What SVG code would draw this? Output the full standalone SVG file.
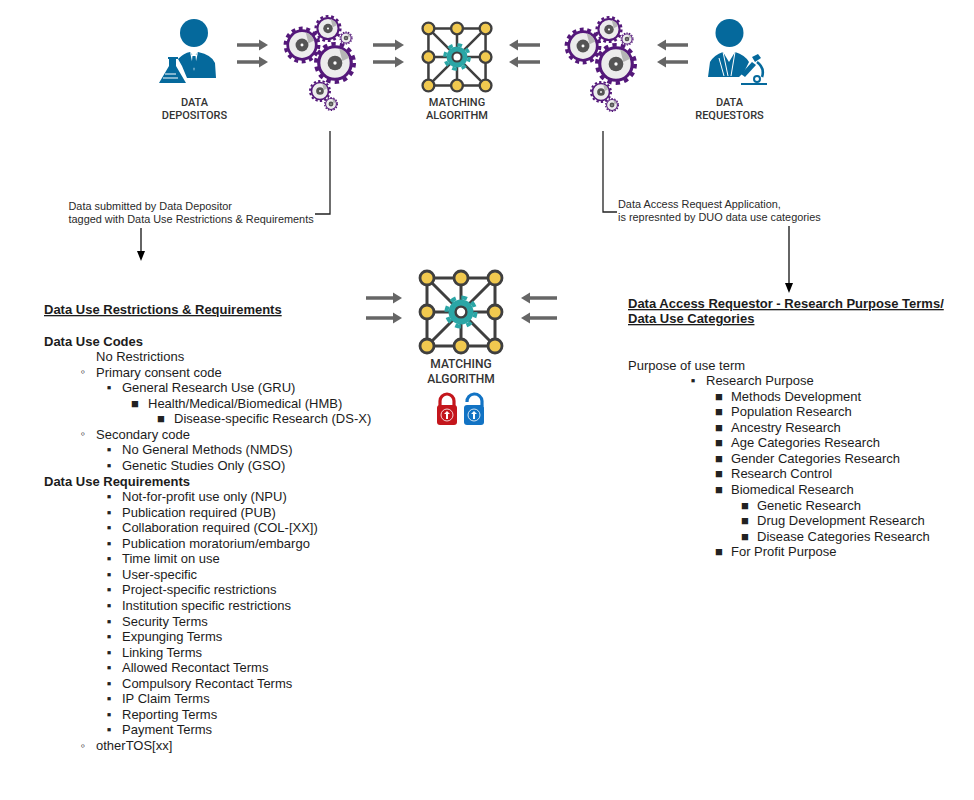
<svg xmlns="http://www.w3.org/2000/svg" width="974" height="800" viewBox="0 0 974 800">
<style>
text{font-family:"Liberation Sans",Arial,sans-serif;fill:#1c1c1c}
.b{font-size:13px}
.s{font-size:10.900px;fill:#2a2a2a}
.h{font-size:13px;font-weight:bold;text-decoration:underline}
.g{font-size:13px;font-weight:bold}
.l{font-family:Roboto,"Liberation Sans",sans-serif;font-weight:500;fill:#333;text-anchor:middle}
.bu{font-size:13px;fill:#222;text-anchor:middle}
.block{stroke:#666;stroke-width:3.500;fill:none;marker-end:url(#blockhead)}
.thin{stroke:#222;stroke-width:1.300;fill:none}
.thinA{stroke:#111;stroke-width:1.300;fill:none;marker-end:url(#blackhead)}
.edge{stroke:#3f3f3f;stroke-width:3}
.node{fill:#f1c94f;stroke:#3f3f3f;stroke-width:2.800}
.blue{fill:#05699c}
</style>
<defs>
<marker id="blockhead" markerUnits="userSpaceOnUse" markerWidth="10" markerHeight="12" refX="1" refY="6" orient="auto"><path d="M0 0.500L9 6L0 11.500Z" fill="#666"/></marker>
<marker id="blackhead" markerUnits="userSpaceOnUse" markerWidth="10" markerHeight="8" refX="0" refY="4" orient="auto"><path d="M0 0L10 4L0 8Z" fill="#000"/></marker>
<symbol id="gear" viewBox="-22 -22 44 44" overflow="visible">
<circle r="18.2" fill="none" stroke="#54187a" stroke-width="3.600" stroke-dasharray="4.200 3.970"/>
<circle r="15.500" fill="#ececec" stroke="#54187a" stroke-width="3"/>
<path d="M4 -13.800A14.400 14.400 0 0 1 13.500 -5L7 -2Z" fill="#b5b5b5"/>
<circle r="7" fill="#555"/>
<circle r="1.600" fill="#fff"/>
</symbol>
<symbol id="algo" viewBox="-44 -44 88 88" overflow="visible">
<path class="edge" fill="none" d="M-34 -34H34V34H-34ZM-34 0H34M0 -34V34M-34 -34L34 34M34 -34L-34 34"/>
<circle r="14.500" fill="none" stroke="#2ba6a6" stroke-width="4" stroke-dasharray="5.690 5.690"/>
<circle r="12.500" fill="#2ba6a6"/>
<circle r="5.400" fill="#fff" stroke="#3f3f3f" stroke-width="2.400"/>
<circle class="node" cx="-34" cy="-34" r="7"/><circle class="node" cy="-34" r="7"/><circle class="node" cx="34" cy="-34" r="7"/>
<circle class="node" cx="-34" r="7"/><circle class="node" cx="34" r="7"/>
<circle class="node" cx="-34" cy="34" r="7"/><circle class="node" cy="34" r="7"/><circle class="node" cx="34" cy="34" r="7"/>
</symbol>
<g id="gears">
<use href="#gear" x="-22" y="-22" width="44" height="44" transform="translate(0 0) scale(.92)"/>
<use href="#gear" x="-22" y="-22" width="44" height="44" transform="translate(26 -16.500) scale(.68)"/>
<use href="#gear" x="-22" y="-22" width="44" height="44" transform="translate(44 -7) scale(.33)"/>
<use href="#gear" x="-22" y="-22" width="44" height="44" transform="translate(33 18) scale(1.050)"/>
<use href="#gear" x="-22" y="-22" width="44" height="44" transform="translate(18 46) scale(.55)"/>
<use href="#gear" x="-22" y="-22" width="44" height="44" transform="translate(29 59) scale(.35)"/>
</g>
</defs>
<rect width="974" height="800" fill="#fff"/>

<g id="connectors">
<path class="block" d="M237 45H260"/><path class="block" d="M237 62H260"/>
<path class="block" d="M373 45H396"/><path class="block" d="M373 62H396"/>
<path class="block" d="M540 45H517"/><path class="block" d="M540 62H517"/>
<path class="block" d="M688 45H665"/><path class="block" d="M688 62H665"/>
<path class="block" d="M366 298H394"/><path class="block" d="M366 318H394"/>
<path class="block" d="M557 298H529"/><path class="block" d="M557 318H529"/>
<path class="thin" d="M330 131V214H315"/>
<path class="thin" d="M603 131V212H617"/>
<path class="thinA" d="M141 228V251"/>
<path class="thinA" d="M789 226V283"/>
</g>

<g id="data-depositors">
<circle class="blue" cx="194" cy="33" r="14"/>
<path class="blue" d="M178 59Q184 53 190 52L194 57L198 52Q212 55 215 63L216 78H187L182 66Z"/>
<path d="M190 52L194 71L198 52L196 55H192Z" fill="#fff"/>
<path class="blue" d="M192.500 56H195.500L196.500 65L194 69L191.500 65Z"/>
<path class="blue" d="M168 57H178V59H176V66L186 83H159L169 66V59H168Z"/>
<path d="M165 74H176M163 78H178" stroke="#fff" stroke-width="1" fill="none"/>
<text class="l" font-size="11" x="194.500" y="106">DATA</text>
<text class="l" font-size="11" x="194.500" y="119">DEPOSITORS</text>
</g>

<g id="gears-left"><use href="#gears" x="302" y="45"/></g>

<g id="matching-top">
<use href="#algo" x="-44" y="-44" width="88" height="88" transform="translate(457 57) scale(.84)"/>
<text class="l" font-size="11" x="457" y="106">MATCHING</text>
<text class="l" font-size="11" x="457" y="119">ALGORITHM</text>
</g>

<g id="gears-right"><use href="#gears" x="583" y="46"/></g>

<g id="data-requestors">
<circle class="blue" cx="729.500" cy="33" r="14"/>
<path class="blue" d="M708 77L710 62Q714 55 723 52L729 62L735 52Q745 55 749 62L744 72L739 77Z"/>
<path d="M723 52L728 76M735 52L731 76M719 58L724 76" stroke="#fff" stroke-width="1" fill="none"/>
<path class="blue" d="M741 74L752 62L756 65L745 77Z"/>
<path class="blue" d="M752 57L758 54L761 58L755 62Z"/>
<path d="M757 62Q765 68 762 77" stroke="#05699c" stroke-width="2.600" fill="none"/>
<circle cx="757" cy="79" r="3" fill="#fff" stroke="#05699c" stroke-width="2"/>
<path class="blue" d="M741 83H767V85H741Z"/>
<text class="l" font-size="11" x="729.500" y="106">DATA</text>
<text class="l" font-size="11" x="729.500" y="119">REQUESTORS</text>
</g>

<g id="matching-lower">
<use href="#algo" x="-44" y="-44" width="88" height="88" transform="translate(461 312)"/>
<text class="l" font-size="12" x="461" y="368">MATCHING</text>
<text class="l" font-size="12" x="461" y="383">ALGORITHM</text>
</g>

<g id="lock-closed">
<path d="M440 406V401A7 7 0 0 1 454 401V406" fill="none" stroke="#c4161c" stroke-width="3.200"/>
<rect x="437" y="405" width="20" height="20" rx="3" fill="#c4161c"/>
<circle cx="447" cy="415" r="6" fill="none" stroke="#fff" stroke-width=".8"/>
<path d="M447 411L450 414H448V419H446V414H444Z" fill="#fff"/>
</g>
<g id="lock-open">
<path d="M467 402A7.500 7.500 0 0 1 482 401V406" fill="none" stroke="#1273c4" stroke-width="3.200"/>
<rect x="464" y="405" width="20" height="20" rx="3" fill="#1273c4"/>
<circle cx="474" cy="415" r="6" fill="none" stroke="#fff" stroke-width=".8"/>
<path d="M474 411L477 414H475V419H473V414H471Z" fill="#fff"/>
</g>

<g id="label-depositor">
<text class="s" x="68.500" y="210">Data submitted by Data Depositor</text>
<text class="s" x="68.500" y="223">tagged with Data Use Restrictions &amp; Requirements</text>
</g>
<g id="label-requestor">
<text class="s" x="618" y="208">Data Access Request Application,</text>
<text class="s" x="618" y="221">is represnted by DUO data use categories</text>
</g>

<g id="restrictions-list">
<text class="h" x="44" y="314">Data Use Restrictions &amp; Requirements</text>
<text class="g" x="44" y="345.500">Data Use Codes</text>
<text class="b" x="96" y="361">No Restrictions</text>
<text class="bu" x="83" y="376">◦</text><text class="b" x="96" y="376.500">Primary consent code</text>
<text class="bu" x="109" y="392">▪</text><text class="b" x="122" y="392">General Research Use (GRU)</text>
<text class="bu" x="135" y="407.500">■</text><text class="b" x="148" y="407.500">Health/Medical/Biomedical (HMB)</text>
<text class="bu" x="161" y="423">■</text><text class="b" x="174" y="423">Disease-specific Research (DS-X)</text>
<text class="bu" x="83" y="438">◦</text><text class="b" x="96" y="438.500">Secondary code</text>
<text class="bu" x="109" y="454">▪</text><text class="b" x="122" y="454">No General Methods (NMDS)</text>
<text class="bu" x="109" y="469.500">▪</text><text class="b" x="122" y="469.500">Genetic Studies Only (GSO)</text>
<text class="g" x="44" y="485.500">Data Use Requirements</text>
<text class="bu" x="109" y="501">▪</text><text class="b" x="122" y="501">Not-for-profit use only (NPU)</text>
<text class="bu" x="109" y="516.500">▪</text><text class="b" x="122" y="516.500">Publication required (PUB)</text>
<text class="bu" x="109" y="532">▪</text><text class="b" x="122" y="532">Collaboration required (COL-[XX])</text>
<text class="bu" x="109" y="547.500">▪</text><text class="b" x="122" y="547.500">Publication moratorium/embargo</text>
<text class="bu" x="109" y="563">▪</text><text class="b" x="122" y="563">Time limit on use</text>
<text class="bu" x="109" y="578.500">▪</text><text class="b" x="122" y="578.500">User-specific</text>
<text class="bu" x="109" y="594">▪</text><text class="b" x="122" y="594">Project-specific restrictions</text>
<text class="bu" x="109" y="610">▪</text><text class="b" x="122" y="610">Institution specific restrictions</text>
<text class="bu" x="109" y="625.500">▪</text><text class="b" x="122" y="625.500">Security Terms</text>
<text class="bu" x="109" y="641">▪</text><text class="b" x="122" y="641">Expunging Terms</text>
<text class="bu" x="109" y="656.500">▪</text><text class="b" x="122" y="656.500">Linking Terms</text>
<text class="bu" x="109" y="672">▪</text><text class="b" x="122" y="672">Allowed Recontact Terms</text>
<text class="bu" x="109" y="687.500">▪</text><text class="b" x="122" y="687.500">Compulsory Recontact Terms</text>
<text class="bu" x="109" y="703">▪</text><text class="b" x="122" y="703">IP Claim Terms</text>
<text class="bu" x="109" y="718.500">▪</text><text class="b" x="122" y="718.500">Reporting Terms</text>
<text class="bu" x="109" y="734">▪</text><text class="b" x="122" y="734">Payment Terms</text>
<text class="bu" x="83" y="749.500">◦</text><text class="b" x="96" y="749.500">otherTOS[xx]</text>
</g>

<g id="purpose-list">
<text class="h" x="628" y="308">Data Access Requestor - Research Purpose Terms/</text>
<text class="h" x="628" y="323">Data Use Categories</text>
<text class="b" x="628" y="369.500">Purpose of use term</text>
<text class="bu" x="693" y="385">▪</text><text class="b" x="706" y="385">Research Purpose</text>
<text class="bu" x="719" y="400.500">■</text><text class="b" x="731" y="400.500">Methods Development</text>
<text class="bu" x="719" y="416">■</text><text class="b" x="731" y="416">Population Research</text>
<text class="bu" x="719" y="431.500">■</text><text class="b" x="731" y="431.500">Ancestry Research</text>
<text class="bu" x="719" y="447">■</text><text class="b" x="731" y="447">Age Categories Research</text>
<text class="bu" x="719" y="462.500">■</text><text class="b" x="731" y="462.500">Gender Categories Research</text>
<text class="bu" x="719" y="478">■</text><text class="b" x="731" y="478">Research Control</text>
<text class="bu" x="719" y="494">■</text><text class="b" x="731" y="494">Biomedical Research</text>
<text class="bu" x="745" y="509.500">■</text><text class="b" x="757" y="509.500">Genetic Research</text>
<text class="bu" x="745" y="525">■</text><text class="b" x="757" y="525">Drug Development Research</text>
<text class="bu" x="745" y="540.500">■</text><text class="b" x="757" y="540.500">Disease Categories Research</text>
<text class="bu" x="719" y="556">■</text><text class="b" x="731" y="556">For Profit Purpose</text>
</g>
</svg>
